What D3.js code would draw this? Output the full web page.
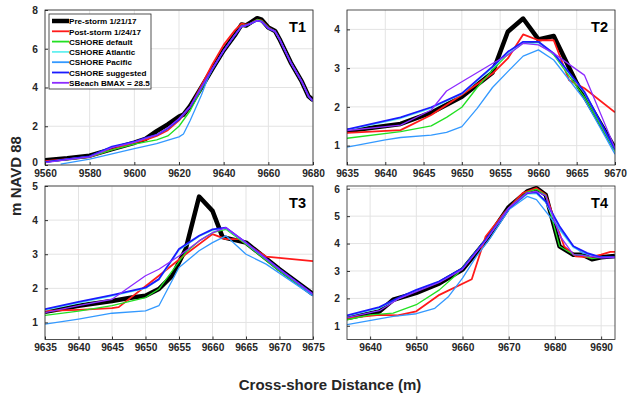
<!DOCTYPE html>
<html>
<head>
<meta charset="utf-8">
<script src="https://cdn.jsdelivr.net/npm/d3@7"></script>
<style>
  body { margin: 0; background: #fff; }
  svg { font-family: "Liberation Sans", Arial, sans-serif; font-weight: bold; }
</style>
</head>
<body>
<div id="chart"></div>
<script>
// legend / series
const seriesNames = ['Pre-storm 1/21/17', 'Post-storm 1/24/17', 'CSHORE default', 'CSHORE Atlantic',
  'CSHORE Pacific', 'CSHORE suggested', 'SBeach BMAX = 28.5'];
const seriesColors = ['#000000', '#ff1a1a', '#22e022', '#66f0f0', '#3399ff', '#1a1aff', '#8c2bff'];
const seriesWidths = [4.5, 1.8, 1.3, 1.3, 1.3, 1.8, 1.3];

// T1 profiles [distance, elevation]
const t1Pre = [[9560,0.25],[9570,0.35],[9580,0.48],[9590,0.82],[9600,1.15],[9605,1.35],[9610,1.75],[9615,2.1],[9620,2.5],[9622,2.6],[9625,3.05],[9630,4.0],[9635,4.97],[9640,5.92],[9645,6.7],[9648,7.25],[9650,7.2],[9652,7.35],[9655,7.58],[9657,7.5],[9660,7.1],[9663,6.92],[9665,6.5],[9670,5.3],[9675,4.3],[9678,3.55],[9680,3.35]];
const t1Post = [[9560,0.2],[9570,0.3],[9580,0.42],[9590,0.8],[9600,1.15],[9605,1.3],[9610,1.5],[9615,1.8],[9620,2.3],[9625,3.0],[9630,4.1],[9635,5.2],[9640,6.2],[9645,6.95],[9648,7.3],[9650,7.25],[9652,7.3],[9655,7.5],[9657,7.45],[9660,7.1],[9663,6.9],[9665,6.5],[9670,5.3],[9675,4.3],[9678,3.55],[9680,3.3]];
const t1Default = [[9560,0.15],[9570,0.28],[9580,0.42],[9590,0.78],[9600,1.08],[9610,1.3],[9615,1.5],[9620,2.0],[9625,2.8],[9630,3.9],[9635,4.95],[9640,5.9],[9645,6.7],[9648,7.2],[9650,7.2],[9652,7.3],[9655,7.5],[9657,7.45],[9660,7.1],[9663,6.9],[9665,6.5],[9670,5.3],[9675,4.3],[9678,3.55],[9680,3.3]];
const t1Atlantic = [[9560,0.15],[9570,0.3],[9580,0.45],[9590,0.92],[9600,1.18],[9605,1.38],[9610,1.55],[9615,1.88],[9620,2.35],[9625,3.0],[9630,4.0],[9635,4.97],[9640,5.9],[9645,6.7],[9648,7.15],[9650,7.2],[9652,7.3],[9655,7.45],[9657,7.4],[9660,7.05],[9663,6.9],[9665,6.5],[9670,5.3],[9675,4.3],[9678,3.55],[9680,3.3]];
const t1Pacific = [[9567,0.05],[9580,0.3],[9590,0.58],[9600,0.85],[9610,1.1],[9617,1.35],[9620,1.45],[9622,1.6],[9625,2.3],[9630,3.6],[9633,4.5],[9635,4.95],[9640,5.9],[9645,6.7],[9648,7.15],[9650,7.2],[9652,7.3],[9655,7.45],[9657,7.4],[9660,7.05],[9663,6.9],[9665,6.5],[9670,5.3],[9675,4.3],[9678,3.55],[9680,3.3]];
const t1Suggested = [[9560,0.15],[9570,0.3],[9580,0.45],[9590,0.95],[9600,1.2],[9605,1.4],[9610,1.55],[9615,1.9],[9620,2.35],[9625,3.0],[9630,4.0],[9635,4.97],[9640,5.9],[9645,6.7],[9648,7.15],[9650,7.2],[9652,7.3],[9655,7.45],[9657,7.4],[9660,7.05],[9663,6.9],[9665,6.5],[9670,5.3],[9675,4.3],[9678,3.55],[9680,3.3]];
const t1SBeach = [[9560,0.12],[9570,0.28],[9580,0.42],[9590,0.9],[9600,1.18],[9605,1.38],[9610,1.55],[9615,1.92],[9620,2.4],[9625,3.02],[9630,4.0],[9635,4.97],[9640,5.9],[9645,6.7],[9648,7.15],[9650,7.2],[9652,7.3],[9655,7.45],[9657,7.4],[9660,7.05],[9663,6.9],[9665,6.5],[9670,5.3],[9675,4.3],[9678,3.55],[9680,3.3]];

// T2 profiles
const t2Pre = [[9635,1.38],[9642,1.56],[9646,1.85],[9650,2.26],[9654,2.88],[9656,3.94],[9658,4.28],[9660,3.74],[9662,3.83],[9665,2.61],[9670,0.93]];
const t2Post = [[9635,1.33],[9642,1.4],[9646,1.79],[9650,2.31],[9654,2.86],[9656,3.25],[9658,3.87],[9660,3.72],[9662,3.72],[9664,2.69],[9666,2.48],[9670,1.86]];
const t2Default = [[9635,1.19],[9642,1.36],[9646,1.51],[9648,1.73],[9650,1.99],[9652,2.5],[9654,2.95],[9656,3.36],[9658,3.64],[9660,3.68],[9662,3.34],[9666,2.26],[9670,0.85]];
const t2Atlantic = [[9635,1.4],[9642,1.7],[9646,1.96],[9650,2.33],[9654,3.0],[9656,3.38],[9658,3.65],[9660,3.62],[9662,3.36],[9666,2.36],[9670,0.88]];
const t2Pacific = [[9635,0.96],[9640,1.15],[9642,1.21],[9646,1.27],[9648,1.34],[9650,1.49],[9652,1.96],[9654,2.5],[9656,2.91],[9658,3.31],[9660,3.47],[9662,3.21],[9666,2.19],[9670,0.78]];
const t2Suggested = [[9635,1.42],[9642,1.73],[9646,1.99],[9650,2.35],[9654,3.04],[9656,3.42],[9658,3.68],[9660,3.68],[9662,3.38],[9666,2.39],[9670,0.9]];
const t2SBeach = [[9635,1.39],[9642,1.53],[9646,1.92],[9648,2.41],[9650,2.65],[9654,3.12],[9656,3.34],[9658,3.64],[9660,3.6],[9662,3.38],[9666,2.82],[9667,2.35],[9670,0.93]];

// T3 profiles
const t3Pre = [[9635,1.31],[9640,1.49],[9645,1.63],[9648,1.73],[9650,1.78],[9652,1.98],[9654,2.37],[9656,3.15],[9658,4.69],[9660,4.27],[9661.5,3.5],[9665,3.34],[9670,2.56],[9675,1.83]];
const t3Post = [[9635,1.34],[9640,1.37],[9645,1.42],[9646,1.45],[9652,2.37],[9656,3.0],[9660,3.59],[9662,3.44],[9664,3.44],[9668,2.93],[9675,2.8]];
const t3Default = [[9635,1.21],[9640,1.33],[9645,1.49],[9650,1.73],[9652,1.98],[9656,3.05],[9658,3.39],[9660,3.63],[9662,3.73],[9665,3.29],[9670,2.51],[9675,1.8]];
const t3Atlantic = [[9635,1.36],[9640,1.57],[9645,1.77],[9650,2.0],[9652,2.25],[9655,3.12],[9658,3.52],[9660,3.7],[9662,3.76],[9665,3.32],[9670,2.55],[9675,1.82]];
const t3Pacific = [[9635,0.95],[9640,1.1],[9645,1.27],[9650,1.34],[9652,1.49],[9655,2.61],[9658,3.1],[9660,3.34],[9662,3.54],[9665,3.0],[9668,2.71],[9675,1.78]];
const t3Suggested = [[9635,1.39],[9640,1.6],[9645,1.8],[9650,2.02],[9652,2.27],[9655,3.15],[9658,3.54],[9660,3.73],[9662,3.78],[9665,3.34],[9670,2.56],[9675,1.83]];
const t3SBeach = [[9635,1.29],[9640,1.49],[9645,1.68],[9650,2.37],[9652,2.56],[9655,2.95],[9658,3.39],[9660,3.63],[9662,3.78],[9665,3.34],[9670,2.56],[9675,1.83]];

// T4 profiles
const t4Pre = [[9635,1.28],[9642,1.52],[9645,1.95],[9650,2.2],[9655,2.55],[9660,3.05],[9665,4.08],[9670,5.33],[9674,5.9],[9676,6.02],[9678,5.78],[9681,3.9],[9684,3.59],[9686,3.59],[9688,3.43],[9690,3.5],[9693,3.55]];
const t4Post = [[9635,1.28],[9642,1.4],[9646,1.38],[9650,1.53],[9655,2.13],[9662,2.7],[9665,4.26],[9669,5.11],[9673,5.84],[9676,6.02],[9678,5.78],[9682,3.9],[9684.5,3.53],[9687.5,3.5],[9690,3.6],[9692,3.7],[9693,3.7]];
const t4Default = [[9635,1.22],[9640,1.4],[9645,1.46],[9650,1.77],[9655,2.31],[9659,2.92],[9662,3.53],[9665,4.14],[9670,5.3],[9674,5.88],[9676,5.98],[9678,5.76],[9681,3.9],[9684,3.6],[9686,3.58],[9688,3.45],[9690,3.5],[9693,3.52]];
const t4Atlantic = [[9635,1.35],[9642,1.64],[9646,1.98],[9650,2.28],[9655,2.6],[9660,3.08],[9665,4.12],[9670,5.28],[9674,5.8],[9676,5.82],[9678,5.5],[9681,4.5],[9684,3.85],[9687,3.62],[9690,3.5],[9693,3.5]];
const t4Pacific = [[9635,1.04],[9645,1.34],[9650,1.44],[9654,1.64],[9657,2.07],[9660,2.74],[9663,3.53],[9666,4.2],[9670,5.23],[9674,5.72],[9676,5.6],[9680,4.75],[9684,3.9],[9686,3.65],[9690,3.5],[9693,3.5]];
const t4Suggested = [[9635,1.38],[9642,1.68],[9646,2.01],[9650,2.31],[9655,2.62],[9660,3.1],[9665,4.14],[9670,5.29],[9674,5.84],[9676,5.87],[9678,5.54],[9681,4.63],[9684,3.9],[9687,3.65],[9690,3.5],[9693,3.5]];
const t4SBeach = [[9635,1.3],[9642,1.55],[9646,1.97],[9650,2.25],[9655,2.58],[9660,3.06],[9665,4.1],[9670,5.3],[9674,5.85],[9676,5.9],[9678,5.75],[9681,4.3],[9684,3.6],[9687,3.55],[9690,3.48],[9693,3.5]];

// panel axes
const panelNames = ['T1', 'T2', 'T3', 'T4'];
const xDomains = [[9560, 9680], [9635, 9670], [9635, 9675], [9635, 9693]];
const yDomains = [[0, 8], [0.5, 4.5], [0.5, 5], [0.5, 6.1]];
const xTickValues = [[9560, 9580, 9600, 9620, 9640, 9660, 9680],
  [9635, 9640, 9645, 9650, 9655, 9660, 9665, 9670],
  [9635, 9640, 9645, 9650, 9655, 9660, 9665, 9670, 9675],
  [9640, 9650, 9660, 9670, 9680, 9690]];
const yTickValues = [[0, 2, 4, 6, 8], [1, 2, 3, 4], [1, 2, 3, 4, 5], [1, 2, 3, 4, 5, 6]];
const panelData = [
  [t1Pre, t1Post, t1Default, t1Atlantic, t1Pacific, t1Suggested, t1SBeach],
  [t2Pre, t2Post, t2Default, t2Atlantic, t2Pacific, t2Suggested, t2SBeach],
  [t3Pre, t3Post, t3Default, t3Atlantic, t3Pacific, t3Suggested, t3SBeach],
  [t4Pre, t4Post, t4Default, t4Atlantic, t4Pacific, t4Suggested, t4SBeach]
];

const width = 628, height = 396;
const boxes = [
  { left: 45, top: 10, right: 313, bottom: 165 },
  { left: 347, top: 10, right: 615, bottom: 165 },
  { left: 45, top: 186, right: 313, bottom: 339.5 },
  { left: 347, top: 186, right: 615, bottom: 339.5 }
];

const svg = d3.select('#chart').append('svg')
  .attr('width', width)
  .attr('height', height);

panelNames.forEach((name, i) => {
  const b = boxes[i];
  const w = b.right - b.left, h = b.bottom - b.top;
  const g = svg.append('g').attr('transform', `translate(${b.left},${b.top})`);

  const x = d3.scaleLinear().domain(xDomains[i]).range([0, w]);
  const y = d3.scaleLinear().domain(yDomains[i]).range([h, 0]);

  // grid
  g.append('g')
    .selectAll('line')
    .data(xTickValues[i])
    .join('line')
    .attr('x1', d => x(d)).attr('x2', d => x(d))
    .attr('y1', 0).attr('y2', h)
    .attr('stroke', '#e3e3e3').attr('stroke-width', 1);
  g.append('g')
    .selectAll('line')
    .data(yTickValues[i])
    .join('line')
    .attr('x1', 0).attr('x2', w)
    .attr('y1', d => y(d)).attr('y2', d => y(d))
    .attr('stroke', '#e3e3e3').attr('stroke-width', 1);

  // lines
  const clipId = 'clip' + i;
  g.append('clipPath').attr('id', clipId)
    .append('rect').attr('width', w).attr('height', h);

  const line = d3.line()
    .x(d => x(d[0]))
    .y(d => y(d[1]))
    .curve(d3.curveLinear);

  g.append('g')
    .attr('clip-path', `url(#${clipId})`)
    .selectAll('path')
    .data(panelData[i])
    .join('path')
    .attr('fill', 'none')
    .attr('stroke', (d, k) => seriesColors[k])
    .attr('stroke-width', (d, k) => seriesWidths[k])
    .attr('stroke-linejoin', 'round')
    .attr('d', line);

  // axes (ticks inside, MATLAB style)
  g.append('g')
    .attr('transform', `translate(0,${h})`)
    .call(d3.axisBottom(x).tickValues(xTickValues[i]).tickSize(-3).tickPadding(4.5).tickFormat(d3.format('d')))
    .call(a => a.select('.domain').remove())
    .call(a => a.selectAll('.tick line').attr('stroke', '#333'))
    .call(a => a.selectAll('.tick text').attr('fill', '#262626').attr('font-size', 10.2)
      .attr('font-family', '"Liberation Sans", Arial, sans-serif').attr('font-weight', 'bold'));

  g.append('g')
    .call(d3.axisLeft(y).tickValues(yTickValues[i]).tickSize(-3).tickPadding(7).tickFormat(d3.format('d')))
    .call(a => a.select('.domain').remove())
    .call(a => a.selectAll('.tick line').attr('stroke', '#333'))
    .call(a => a.selectAll('.tick text').attr('fill', '#262626').attr('font-size', 10.2)
      .attr('dy', d => (i === 0 && d === 0) ? '0.05em' : '0.32em')
      .attr('font-family', '"Liberation Sans", Arial, sans-serif').attr('font-weight', 'bold'));

  // box
  g.append('rect')
    .attr('width', w).attr('height', h)
    .attr('fill', 'none')
    .attr('stroke', '#262626')
    .attr('stroke-width', 0.8);

  g.append('text')
    .attr('x', w - 7).attr('y', 22)
    .attr('text-anchor', 'end')
    .attr('font-size', 14.5)
    .attr('fill', '#000')
    .text(name);
});

// legend in T1
const legend = svg.append('g').attr('transform', 'translate(49,14)');
legend.append('rect')
  .attr('width', 102).attr('height', 75)
  .attr('fill', '#fff')
  .attr('stroke', '#262626')
  .attr('stroke-width', 0.8);
const rows = legend.selectAll('g.row')
  .data(seriesNames)
  .join('g')
  .attr('class', 'row')
  .attr('transform', (d, k) => `translate(0,${7 + k * 10.3})`);
rows.append('line')
  .attr('x1', 3).attr('x2', 20)
  .attr('stroke', (d, k) => seriesColors[k])
  .attr('stroke-width', (d, k) => k === 0 ? 4.5 : 1.8);
rows.append('text')
  .attr('x', 20).attr('y', 3.2)
  .attr('font-size', 8.1)
  .attr('fill', '#000')
  .text(d => d);

// axis titles
svg.append('text')
  .attr('transform', 'translate(21,176) rotate(-90)')
  .attr('text-anchor', 'middle')
  .attr('font-size', 15)
  .attr('fill', '#262626')
  .text('m NAVD 88');

svg.append('text')
  .attr('x', 330).attr('y', 390)
  .attr('text-anchor', 'middle')
  .attr('font-size', 15)
  .attr('fill', '#262626')
  .text('Cross-shore Distance (m)');
</script>
</body>
</html>
